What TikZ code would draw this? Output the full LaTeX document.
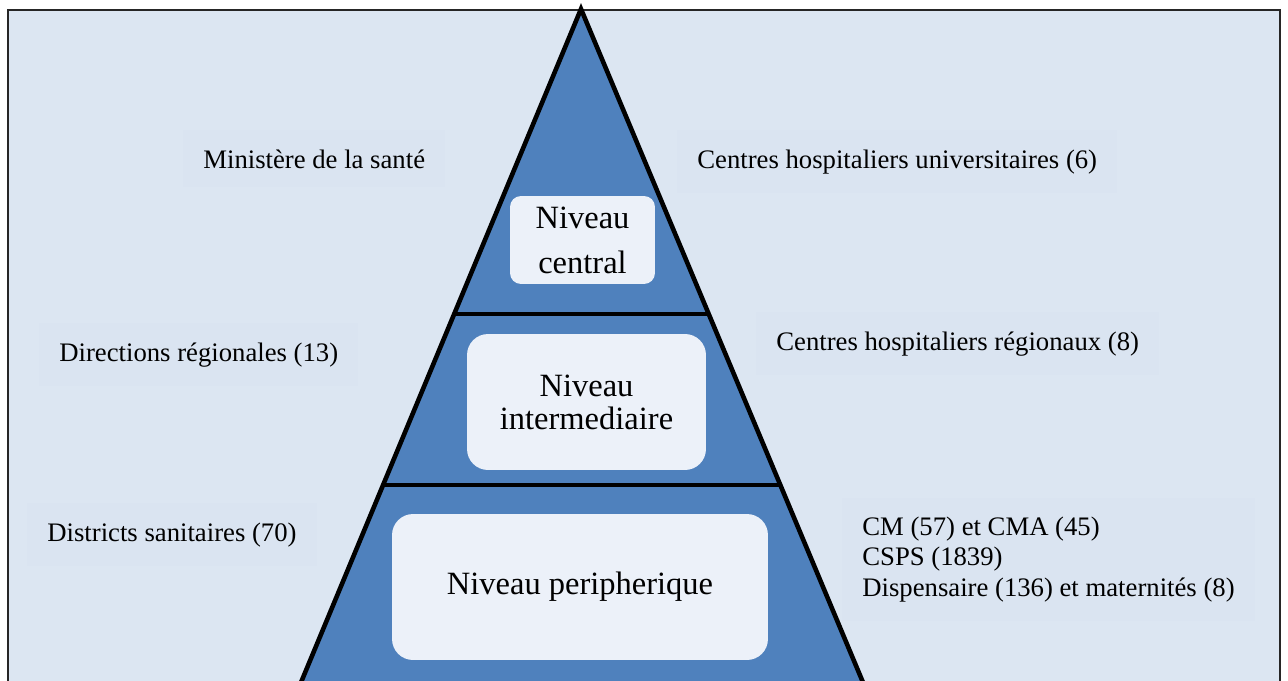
\documentclass[tikz,border=0pt]{standalone}
\usepackage{fontspec}
\setmainfont{LiberationSerif}[Extension=.ttf, UprightFont=*-Regular, BoldFont=*-Bold, ItalicFont=*-Italic, BoldItalicFont=*-BoldItalic]
\usepackage{xcolor}
\usepackage{tikz}
\usetikzlibrary{positioning, calc}
\definecolor{pagebg}{HTML}{DCE6F2}
\definecolor{labelbg}{HTML}{DAE4F1}
\definecolor{pyramid}{HTML}{4F81BD}
\definecolor{boxbg}{HTML}{ECF1F9}
\tikzset{
  frame/.style={
    draw=black!85,
    line width=1.1pt,
    fill=pagebg
  },
  side label/.style={
    anchor=base west,
    align=left,
    fill=labelbg,
    inner xsep=0.4cm,
    inner ysep=0.38cm,
    font=\fontsize{15.2}{17.3}\selectfont
  },
  level box/.style={
    fill=boxbg,
    rounded corners=0.42cm,
    align=center,
    inner sep=0pt
  },
  level line/.style={
    line width=2.3pt,
    color=black
  },
  pyramid edge/.style={
    line width=2.6pt,
    color=black,
    line join=miter
  }
}

\begin{document}
\begin{tikzpicture}[x=0.02cm, y=-0.02cm]
  \clip (0,0) rectangle (1288,680);
  \draw[frame] (8,10) rectangle (1280,720);

  % side labels
  \node[side label] (ministere) at (183,168) {Minist\`ere de la sant\'e};
  \node[side label] (chu) at (677,168) {Centres hospitaliers universitaires (6)};
  \node[side label] (dr) at (39,361) {Directions r\'egionales (13)};
  \node[side label] (chr) at (756,350) {Centres hospitaliers r\'egionaux (8)};
  \node[side label] (ds) at (27,541) {Districts sanitaires (70)};
  \node[side label] (fs) at (842,596) {CM (57) et CMA (45)\\CSPS (1839)\\Dispensaire (136) et maternit\'es (8)};

  % pyramid
  \coordinate (apex) at (581,9);
  \coordinate (bl) at (302,680);
  \coordinate (br) at (862,680);
  \fill[pyramid] (apex) -- ($(apex)!1.1!(bl)$) -- ($(apex)!1.1!(br)$) -- cycle;
  \draw[level line] ($(apex)!0.455!(bl)$) -- ($(apex)!0.455!(br)$);
  \draw[level line] ($(apex)!0.710!(bl)$) -- ($(apex)!0.710!(br)$);
  \draw[pyramid edge] ($(apex)!1.1!(bl)$) -- (apex) -- ($(apex)!1.1!(br)$);

  % levels
  \node[level box, rounded corners=0.22cm, minimum width=2.9cm, minimum height=1.76cm,
    font=\fontsize{18.5}{25.5}\selectfont] (central) at (582.5,240) {Niveau\\central};
  \node[level box, minimum width=4.78cm, minimum height=2.72cm,
    font=\fontsize{18.5}{18.7}\selectfont] (inter) at (586.5,402) {Niveau\\intermediaire};
  \node[level box, minimum width=7.52cm, minimum height=2.92cm,
    font=\fontsize{18.5}{18.7}\selectfont] (peri) at (580,587) {Niveau peripherique};
\end{tikzpicture}
\end{document}
